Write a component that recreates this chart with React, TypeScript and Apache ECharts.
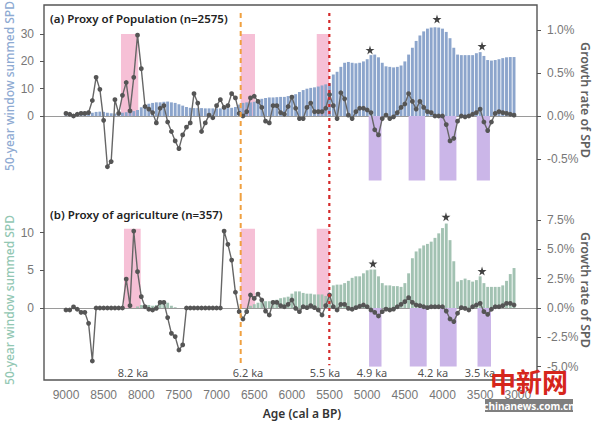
import React, { useEffect, useRef } from "react";
import * as echarts from "echarts";

const ages = [
  9000, 8950, 8900, 8850, 8800, 8750, 8700, 8650, 8600, 8550,
  8500, 8450, 8400, 8350, 8300, 8250, 8200, 8150, 8100, 8050,
  8000, 7950, 7900, 7850, 7800, 7750, 7700, 7650, 7600, 7550,
  7500, 7450, 7400, 7350, 7300, 7250, 7200, 7150, 7100, 7050,
  7000, 6950, 6900, 6850, 6800, 6750, 6700, 6650, 6600, 6550,
  6500, 6450, 6400, 6350, 6300, 6250, 6200, 6150, 6100, 6050,
  6000, 5950, 5900, 5850, 5800, 5750, 5700, 5650, 5600, 5550,
  5500, 5450, 5400, 5350, 5300, 5250, 5200, 5150, 5100, 5050,
  5000, 4950, 4900, 4850, 4800, 4750, 4700, 4650, 4600, 4550,
  4500, 4450, 4400, 4350, 4300, 4250, 4200, 4150, 4100, 4050,
  4000, 3950, 3900, 3850, 3800, 3750, 3700, 3650, 3600, 3550,
  3500, 3450, 3400, 3350, 3300, 3250, 3200, 3150, 3100, 3050,
];

// (a) population: 50-year summed SPD (left axis)
const popSpd = [
  0.3, 0.3, 0.4, 0.5, 0.6, 0.8, 1.0, 1.2, 1.5, 1.6,
  1.5, 1.2, 1.0, 0.9, 1.0, 1.2, 1.4, 1.6, 1.8, 2.2,
  3.2, 4.0, 4.5, 4.8, 5.0, 5.0, 5.2, 5.3, 5.0, 4.8,
  4.3, 3.8, 3.3, 3.0, 2.9, 2.9, 2.9, 2.8, 2.8, 2.8,
  2.8, 2.8, 2.8, 2.9, 3.0, 3.3, 4.2, 4.8, 5.0, 5.0,
  5.2, 5.5, 6.3, 6.6, 6.8, 6.8, 6.9, 7.0, 7.0, 7.3,
  7.6, 8.0, 8.8, 9.5, 10.0, 10.3, 10.5, 10.8, 11.2, 11.6,
  12.0, 15.2, 16.2, 18.0, 19.5, 19.8, 19.5, 19.3, 19.5, 20.0,
  20.8, 22.3, 22.5, 21.5, 19.5, 18.2, 18.0, 17.8, 18.0, 18.5,
  20.0, 22.5, 25.0, 27.5, 29.5, 31.0, 32.0, 32.4, 32.5, 32.4,
  32.0, 30.8, 28.5, 25.0, 22.5, 22.3, 22.3, 22.3, 22.3, 23.0,
  23.4, 22.0, 20.5, 20.3, 20.5, 20.8, 21.2, 21.5, 21.6, 21.6,
];

// (a) population: growth rate of SPD, % (right axis)
const popGrowth = [
  0.03, 0.02, 0.0, 0.02, 0.03, 0.03, 0.04, 0.18, 0.45, 0.31,
  -0.05, -0.59, -0.53, 0.19, 0.03, 0.24, 0.39, 0.06, 0.45, 0.94,
  0.55, 0.11, 0.08, 0.04, -0.08, 0.09, 0.12, -0.07, -0.18, -0.29,
  -0.38, -0.22, -0.13, -0.08, 0.26, 0.15, -0.18, -0.08, 0.01, -0.02,
  0.12, 0.19, 0.10, 0.12, 0.26, 0.21, 0.03, 0.0, 0.05, 0.21,
  0.23, 0.17, 0.10, -0.06, -0.08, 0.12, 0.12, 0.04, 0.02, 0.11,
  0.22, 0.09, -0.03, -0.03, 0.10, 0.15, 0.05, 0.05, 0.05, 0.09,
  0.25, 0.12, -0.03, 0.27, 0.20, 0.01, -0.03, 0.05, 0.09, 0.09,
  0.07, 0.04, -0.16, -0.22, -0.03, 0.01, -0.03, -0.01, 0.04, 0.10,
  0.14, 0.26, 0.17, 0.08, 0.17, 0.10, 0.05, 0.04, 0.0, 0.0,
  0.0, -0.10, -0.29, -0.26, -0.06, 0.0, -0.01, 0.0, 0.02, 0.04,
  0.08, -0.07, -0.17, -0.07, 0.03, 0.05, 0.04, 0.03, 0.02, 0.01,
];

// (b) agriculture: 50-year summed SPD (left axis)
const agriSpd = [
  0, 0, 0, 0, 0, 0, 0, 0, 0, 0,
  0, 0, 0, 0, 0, 0, 0, 0, 0, 0.2,
  0.4, 0.4, 0.4, 0.3, 0.4, 0.7, 0.8, 0.7, 0.3, 0.1,
  0, 0, 0, 0, 0, 0, 0, 0, 0, 0,
  0, 0, 0, 0, 0, 0, 0, 0, 0, 0.3,
  0.5, 0.7, 0.8, 0.9, 0.9, 1.0, 1.1, 1.3, 1.4, 1.5,
  1.9, 2.2, 2.2, 2.0, 1.9, 1.9, 1.8, 1.8, 1.8, 1.6,
  1.5, 3.0, 3.1, 3.1, 3.3, 3.6, 4.0, 4.2, 4.2, 4.6,
  5.0, 5.1, 5.1, 4.2, 3.3, 3.0, 3.0, 2.9, 2.9, 2.8,
  3.3, 4.6, 6.6, 7.5, 7.9, 8.3, 8.5, 8.8, 9.3, 9.9,
  10.6, 11.2, 9.0, 6.2, 3.5, 3.7, 3.9, 3.7, 3.5, 3.7,
  4.2, 3.3, 2.8, 2.8, 2.8, 2.8, 3.0, 3.6, 4.5, 5.3,
];

// (b) agriculture: growth rate of SPD, % (right axis)
const agriGrowth = [
  -0.17, -0.17, 0.09, -0.11, -0.37, -0.37, -1.31, -4.52, 0, 0,
  0, 0, 0, 0, 0, 0, 2.47, 0.2, 6.56, 3.1,
  0.97, 0.11, -0.11, -0.17, -0.03, 0.48, 0.48, -0.82, -2.16, -2.44,
  -3.58, -3.15, 0, 0, 0, 0, 0, 0, 0, 0,
  0, 0, 6.56, 5.43, 4.09, 1.34, -0.31, -0.94, -0.31, 1.11,
  0.82, 1.19, 0.68, -0.26, -0.6, 0.48, 0.48, 0.2, 0.11, 0.31,
  0.68, -0.03, -0.31, 0.11, 0.03, 0.2, 0.03, -0.17, -0.6, 0.2,
  1.11, 0.11, -0.17, 0.31, 0.31, -0.03, -0.11, 0.03, 0.15, 0.26,
  0.11, -0.17, -0.37, -0.68, -0.31, -0.09, -0.17, -0.09, 0.11, 0.31,
  0.54, 0.88, 0.48, 0.26, 0.2, 0.11, 0.03, 0.11, 0.11, 0.11,
  0.11, -0.26, -0.94, -1.16, -0.45, 0.03, -0.03, -0.17, 0.11, 0.26,
  0.4, -0.31, -0.54, -0.11, 0.11, 0.11, 0.2, 0.4, 0.4, 0.26,
];

const xTicks = [9000, 8500, 8000, 7500, 7000, 6500, 6000, 5500, 5000, 4500, 4000, 3500, 3000];
const popLeftTicks = [0, 10, 20, 30];
const popRightTicks = [-0.5, 0, 0.5, 1.0];
const agriLeftTicks = [0, 5, 10];
const agriRightTicks = [-5, -2.5, 0, 2.5, 5, 7.5];

// bands: [from age, to age, bottom value, top value]
const popPink = [[8270, 8040, 0, 30], [6680, 6490, 0, 30], [5670, 5505, 0, 30]];
const popPurple = [[4980, 4810, 0, -0.75], [4450, 4230, 0, -0.75], [4040, 3815, 0, -0.75], [3545, 3370, 0, -0.75]];
const agriPink = [[8230, 8008, 0, 10.5], [6680, 6490, 0, 10.5], [5670, 5503, 0, 10.5]];
const agriPurple = [[4975, 4810, 0, -5], [4435, 4210, 0, -5], [4035, 3812, 0, -5], [3535, 3356, 0, -5]];

const eventAges = [6680, 5503];
const popStars = [[4963, 24.2], [4073, 35.5], [3475, 25.6]];
const agriStars = [[4923, 5.9], [3954, 12.1], [3475, 4.9]];
const eventNames = ["8.2 ka", "6.2 ka", "5.5 ka", "4.9 ka", "4.2 ka", "3.5 ka"];
const eventLabelAges = [8110, 6583, 5560, 4936, 4126, 3502];

const X_MIN = 2745;
const X_MAX = 9292;
const STAR = "path://M50,0 L61,35 L98,35 L68,57 L79,91 L50,70 L21,91 L32,57 L2,35 L39,35 Z";
const PINK = "#f6c0d6";
const PURPLE = "#cbb6e8";
const LABEL_COLOR = "#777";
const FONT = '"Noto Sans", "Liberation Sans", sans-serif';
const NUM_FONT = '"Liberation Sans", Arial, sans-serif';

function bandSeries(data: number[][], color: string, xi: number, yi: number) {
  return {
    type: "custom",
    xAxisIndex: xi,
    yAxisIndex: yi,
    z: 1,
    silent: true,
    data,
    encode: { x: [0, 1], y: [2, 3] },
    renderItem: (_p: any, api: any) => {
      const a = api.coord([api.value(0), api.value(2)]);
      const b = api.coord([api.value(1), api.value(3)]);
      return {
        type: "rect",
        shape: {
          x: Math.min(a[0], b[0]),
          y: Math.min(a[1], b[1]),
          width: Math.abs(b[0] - a[0]),
          height: Math.abs(b[1] - a[1]),
        },
        style: { fill: color },
      };
    },
  };
}

function vlineSeries(xi: number, yi: number, yTop: number, yBottom: number) {
  const styles = [
    { stroke: "#f0a040", lineWidth: 2, lineDash: [5, 4] },
    { stroke: "#d42a2a", lineWidth: 2.2, lineDash: [3, 4] },
  ];
  return {
    type: "custom",
    xAxisIndex: xi,
    yAxisIndex: yi,
    z: 6,
    silent: true,
    data: eventAges.map((a) => [a]),
    renderItem: (p: any, api: any) => {
      const t = api.coord([api.value(0), yTop]);
      const b = api.coord([api.value(0), yBottom]);
      return {
        type: "line",
        shape: { x1: t[0], y1: t[1], x2: b[0], y2: b[1] },
        style: styles[p.dataIndex],
      };
    },
  };
}

function yAxisDef(gridIndex: number, position: string, min: number, max: number, ticks: number[], pct: boolean) {
  return {
    type: "value",
    gridIndex,
    position,
    min,
    max,
    axisLine: { show: false },
    splitLine: { show: false },
    axisTick: {
      show: true,
      length: 4,
      customValues: ticks,
      lineStyle: { color: "#555", width: 1 },
    },
    axisLabel: {
      show: true,
      customValues: ticks,
      margin: 10,
      color: LABEL_COLOR,
      fontSize: 12,
      fontFamily: NUM_FONT,
      formatter: (v: number) => (pct ? v.toFixed(1) + "%" : String(v)),
    },
  };
}

export default function App() {
  const ref = useRef<HTMLDivElement>(null);

  useEffect(() => {
    if (!ref.current) return;
    const chart = echarts.init(ref.current, undefined, { renderer: "svg" });

    const popBars = ages.map((a, i) => [a, popSpd[i]]);
    const popLine = ages.map((a, i) => [a, popGrowth[i]]);
    const agriBars = ages.map((a, i) => [a, agriSpd[i]]);
    const agriLine = ages.map((a, i) => [a, agriGrowth[i]]);

    const lineCommon = {
      type: "line",
      symbol: "circle",
      symbolSize: 4.8,
      showSymbol: true,
      lineStyle: { color: "#666", width: 1.4 },
      itemStyle: { color: "#555" },
      z: 5,
      silent: true,
    };

    const option: any = {
      animation: false,
      backgroundColor: "#ffffff",
      grid: [
        { left: 44, top: 5, width: 493, height: 191 },
        { left: 44, top: 196, width: 493, height: 184 },
      ],
      xAxis: [
        {
          type: "value",
          gridIndex: 0,
          inverse: true,
          min: X_MIN,
          max: X_MAX,
          axisLine: { show: true, onZero: true, onZeroAxisIndex: 0, lineStyle: { color: "#9a9a9a", width: 1 } },
          axisTick: { show: false },
          axisLabel: { show: false },
          splitLine: { show: false },
        },
        {
          type: "value",
          gridIndex: 1,
          inverse: true,
          min: X_MIN,
          max: X_MAX,
          position: "bottom",
          axisLine: { show: false, onZero: false },
          axisTick: { show: false },
          axisLabel: {
            show: true,
            customValues: xTicks,
            margin: 9,
            color: LABEL_COLOR,
            fontSize: 12,
            fontFamily: NUM_FONT,
            formatter: (v: number) => String(v),
          },
          splitLine: { show: false },
        },
        {
          type: "value",
          gridIndex: 1,
          inverse: true,
          min: X_MIN,
          max: X_MAX,
          axisLine: { show: true, onZero: true, onZeroAxisIndex: 2, lineStyle: { color: "#9a9a9a", width: 1 } },
          axisTick: { show: false },
          axisLabel: { show: false },
          splitLine: { show: false },
        },
      ],
      yAxis: [
        yAxisDef(0, "left", -29.3, 40.66, popLeftTicks, false),
        yAxisDef(0, "right", -0.9302, 1.2907, popRightTicks, true),
        yAxisDef(1, "left", -9.549, 14.854, agriLeftTicks, false),
        yAxisDef(1, "right", -6.143, 9.556, agriRightTicks, true),
      ],
      series: [
        bandSeries(popPink, PINK, 0, 0),
        bandSeries(popPurple, PURPLE, 0, 1),
        {
          type: "bar",
          xAxisIndex: 0,
          yAxisIndex: 0,
          data: popBars,
          barWidth: 2.9,
          itemStyle: { color: "#8ca5cc" },
          z: 2,
          silent: true,
        },
        { ...lineCommon, xAxisIndex: 0, yAxisIndex: 1, data: popLine },
        vlineSeries(0, 0, 37.7, -29.3),
        {
          type: "scatter",
          xAxisIndex: 0,
          yAxisIndex: 0,
          data: popStars,
          symbol: STAR,
          symbolSize: 9,
          itemStyle: { color: "#111" },
          z: 7,
          silent: true,
        },
        bandSeries(agriPink, PINK, 1, 2),
        bandSeries(agriPurple, PURPLE, 1, 3),
        {
          type: "bar",
          xAxisIndex: 1,
          yAxisIndex: 2,
          data: agriBars,
          barWidth: 2.9,
          itemStyle: { color: "#a2c2b2" },
          z: 2,
          silent: true,
        },
        { ...lineCommon, xAxisIndex: 1, yAxisIndex: 3, data: agriLine },
        vlineSeries(1, 2, 14.854, -7.6),
        {
          type: "scatter",
          xAxisIndex: 1,
          yAxisIndex: 2,
          data: agriStars,
          symbol: STAR,
          symbolSize: 9,
          itemStyle: { color: "#111" },
          z: 7,
          silent: true,
        },
        {
          type: "scatter",
          xAxisIndex: 1,
          yAxisIndex: 2,
          data: eventNames.map((n, i) => ({ name: n, value: [eventLabelAges[i], -8.6] })),
          symbolSize: 0,
          z: 8,
          silent: true,
          label: {
            show: true,
            position: "inside",
            formatter: (p: any) => p.name,
            color: "#222",
            fontSize: 11,
            fontFamily: FONT,
          },
        },
      ],
      graphic: [
        {
          type: "rect",
          z: 100,
          silent: true,
          shape: { x: 44, y: 5, width: 493, height: 375 },
          style: { fill: "none", stroke: "#555", lineWidth: 1.4 },
        },
        {
          type: "text",
          z: 100,
          style: { x: 50, y: 18, text: "(a) Proxy of Population (n=2575)", font: `600 11.5px ${FONT}`, fill: "#222", align: "left", verticalAlign: "middle" },
        },
        {
          type: "text",
          z: 100,
          style: { x: 50, y: 214, text: "(b) Proxy of agriculture (n=357)", font: `600 11.5px ${FONT}`, fill: "#222", align: "left", verticalAlign: "middle" },
        },
        {
          type: "text",
          z: 100,
          x: 9,
          y: 86,
          rotation: Math.PI / 2,
          style: { x: 0, y: 0, text: "50-year window summed SPD", font: `500 12px ${FONT}`, fill: "#8eaad2", align: "center", verticalAlign: "middle" },
        },
        {
          type: "text",
          z: 100,
          x: 9,
          y: 300,
          rotation: Math.PI / 2,
          style: { x: 0, y: 0, text: "50-year window summed SPD", font: `500 12px ${FONT}`, fill: "#92c7b3", align: "center", verticalAlign: "middle" },
        },
        {
          type: "text",
          z: 100,
          x: 585,
          y: 100,
          rotation: -Math.PI / 2,
          style: { x: 0, y: 0, text: "Growth rate of SPD", font: `600 12.5px ${FONT}`, fill: "#606060", align: "center", verticalAlign: "middle" },
        },
        {
          type: "text",
          z: 100,
          x: 585,
          y: 290,
          rotation: -Math.PI / 2,
          style: { x: 0, y: 0, text: "Growth rate of SPD", font: `600 12.5px ${FONT}`, fill: "#606060", align: "center", verticalAlign: "middle" },
        },
        {
          type: "text",
          z: 100,
          style: { x: 302, y: 413, text: "Age (cal a BP)", font: `600 12px ${FONT}`, fill: "#333", align: "center", verticalAlign: "middle" },
        },
        {
          type: "text",
          z: 110,
          style: { x: 529, y: 380, text: "中新网", font: 'bold 26px "Noto Sans CJK SC", sans-serif', fill: "#d6261c", align: "center", verticalAlign: "middle" },
        },
        {
          type: "rect",
          z: 110,
          shape: { x: 485, y: 399, width: 88, height: 13 },
          style: { fill: "rgba(95,95,95,0.8)" },
        },
        {
          type: "text",
          z: 111,
          style: { x: 529, y: 405.5, text: "chinanews.com.cn", font: `bold 10px ${FONT}`, fill: "#ffffff", align: "center", verticalAlign: "middle" },
        },
      ],
    };

    chart.setOption(option);
    return () => chart.dispose();
  }, []);

  return (
    <div
      ref={ref}
      style={{ position: "fixed", left: 0, top: 0, width: 600, height: 421, background: "#fff" }}
    />
  );
}
